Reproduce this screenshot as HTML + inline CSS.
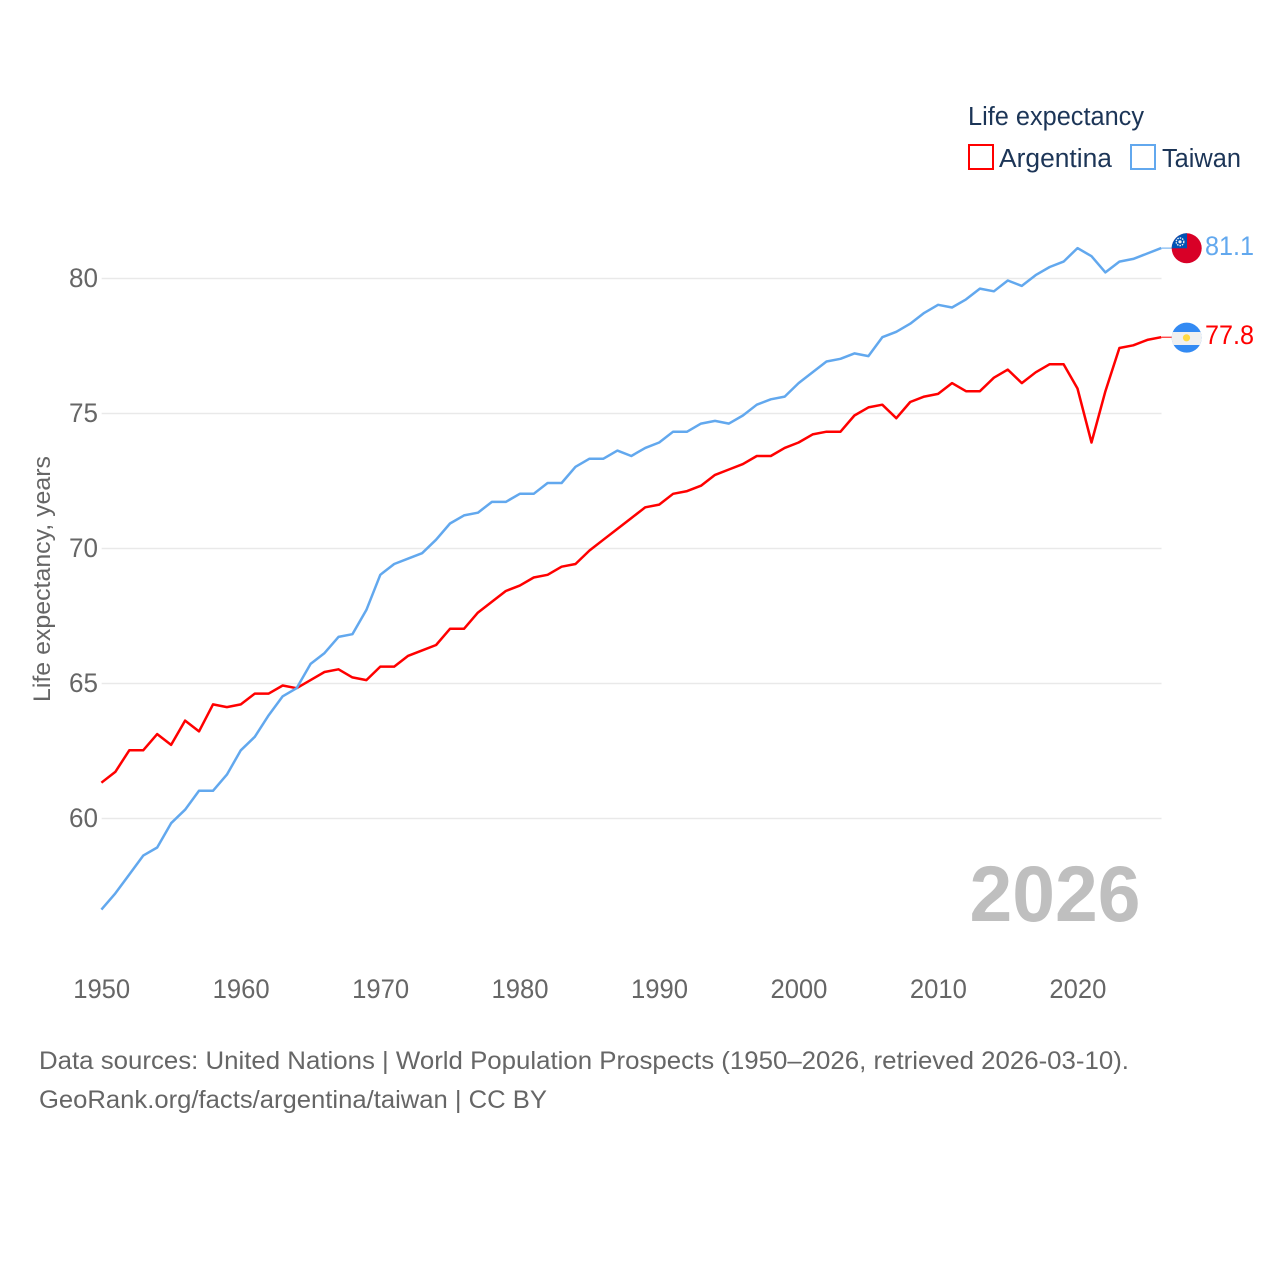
<!DOCTYPE html>
<html lang="en">
<head>
<meta charset="utf-8">
<title>Life expectancy: Argentina and Taiwan</title>
<style>
html,body{margin:0;padding:0;background:#fff;}
body{width:1280px;height:1280px;overflow:hidden;}
svg{display:block;}
text{font-family:"Liberation Sans",sans-serif;}
</style>
</head>
<body>
<svg id="chart" xmlns="http://www.w3.org/2000/svg" width="1280" height="1280" viewBox="0 0 1280 1280">
  <defs>
    <clipPath id="clip-tw"><circle cx="1186.7" cy="248.3" r="15"/></clipPath>
    <clipPath id="clip-ar"><circle cx="1186.7" cy="337.6" r="15"/></clipPath>
  </defs>
  <g id="grid"></g>
  <g id="y-ticks"></g>
  <g id="x-ticks"></g>
  <text transform="translate(50,579) rotate(-90)" text-anchor="middle" font-size="24" fill="#666" textLength="246" lengthAdjust="spacingAndGlyphs">Life expectancy, years</text>
  <text x="969.5" y="921" font-size="79" fill="#bfbfbf" textLength="171" lengthAdjust="spacingAndGlyphs" style="font-weight:700">2026</text>
  <g id="series"></g>

  <g>
    <text x="968" y="125" font-size="25.5" fill="#1c3557" textLength="176" lengthAdjust="spacingAndGlyphs">Life expectancy</text>
    <rect x="969" y="145" width="24" height="24" fill="#fff" stroke="#ff0000" stroke-width="2"/>
    <text x="999" y="167" font-size="25.5" fill="#1c3557" textLength="113" lengthAdjust="spacingAndGlyphs">Argentina</text>
    <rect x="1131" y="145" width="24" height="24" fill="#fff" stroke="#62a8ee" stroke-width="2"/>
    <text x="1162" y="167" font-size="25.5" fill="#1c3557" textLength="79" lengthAdjust="spacingAndGlyphs">Taiwan</text>
  </g>

  <g clip-path="url(#clip-tw)">
    <rect x="1171" y="233" width="32" height="31" fill="#d80027"/>
    <rect x="1171" y="233" width="16" height="15.3" fill="#0052b4"/>
    <circle cx="1180" cy="241.8" r="3.8" fill="none" stroke="#f0f0f0" stroke-width="1.4" stroke-dasharray="1.5 1"/>
    <circle cx="1180" cy="241.8" r="1.6" fill="#f0f0f0"/>
  </g>
  <g clip-path="url(#clip-ar)">
    <rect x="1171" y="322" width="32" height="31" fill="#338af3"/>
    <rect x="1171" y="332" width="32" height="13" fill="#f0f0f0"/>
    <circle cx="1186.5" cy="337.8" r="3.6" fill="#ffda44"/>
  </g>
  <text x="1205" y="255" font-size="26.5" fill="#62a8ee" textLength="49" lengthAdjust="spacingAndGlyphs">81.1</text>
  <text x="1205" y="344" font-size="26.5" fill="#ff0000" textLength="49" lengthAdjust="spacingAndGlyphs">77.8</text>

  <text x="39" y="1069" font-size="25" fill="#666" textLength="1090" lengthAdjust="spacingAndGlyphs">Data sources: United Nations | World Population Prospects (1950–2026, retrieved 2026-03-10).</text>
  <text x="39" y="1108" font-size="25" fill="#666" textLength="508" lengthAdjust="spacingAndGlyphs">GeoRank.org/facts/argentina/taiwan | CC BY</text>
</svg>
<script>
var startYear = 1950;
var argentinaValues = [61.3,61.7,62.5,62.5,63.1,62.7,63.6,63.2,64.2,64.1,64.2,64.6,64.6,64.9,64.8,65.1,65.4,65.5,65.2,65.1,65.6,65.6,66.0,66.2,66.4,67.0,67.0,67.6,68.0,68.4,68.6,68.9,69.0,69.3,69.4,69.9,70.3,70.7,71.1,71.5,71.6,72.0,72.1,72.3,72.7,72.9,73.1,73.4,73.4,73.7,73.9,74.2,74.3,74.3,74.9,75.2,75.3,74.8,75.4,75.6,75.7,76.1,75.8,75.8,76.3,76.6,76.1,76.5,76.8,76.8,75.9,73.9,75.8,77.4,77.5,77.7,77.8];
var taiwanValues = [56.6,57.2,57.9,58.6,58.9,59.8,60.3,61.0,61.0,61.6,62.5,63.0,63.8,64.5,64.8,65.7,66.1,66.7,66.8,67.7,69.0,69.4,69.6,69.8,70.3,70.9,71.2,71.3,71.7,71.7,72.0,72.0,72.4,72.4,73.0,73.3,73.3,73.6,73.4,73.7,73.9,74.3,74.3,74.6,74.7,74.6,74.9,75.3,75.5,75.6,76.1,76.5,76.9,77.0,77.2,77.1,77.8,78.0,78.3,78.7,79.0,78.9,79.2,79.6,79.5,79.9,79.7,80.1,80.4,80.6,81.1,80.8,80.2,80.6,80.7,80.9,81.1];
var yTickValues = [60,65,70,75,80];
var xTickValues = [1950,1960,1970,1980,1990,2000,2010,2020];

var NS = 'http://www.w3.org/2000/svg';
function xScale(year){ return 101.4 + (year - 1950) * 13.945; }
function yScale(v){ return 277.8 + (80 - v) * 27; }
function make(tag, attrs, parent){
  var el = document.createElementNS(NS, tag);
  for (var k in attrs) el.setAttribute(k, attrs[k]);
  parent.appendChild(el);
  return el;
}
var gridG = document.getElementById('grid');
var yG = document.getElementById('y-ticks');
var xG = document.getElementById('x-ticks');
var seriesG = document.getElementById('series');

yTickValues.forEach(function(v){
  var line = make('line', {x1: 101.7, x2: 1161.5, y1: yScale(v) + 0.7, y2: yScale(v) + 0.7, stroke: '#e9e9e9', 'stroke-width': 1.5}, gridG);
  
  
  var t = make('text', {x: 98, y: yScale(v) + 9.2, 'text-anchor': 'end', 'font-size': 26.5, fill: '#666', textLength: 29, lengthAdjust: 'spacingAndGlyphs'}, yG);
  t.textContent = String(v);
  
  
});

xTickValues.forEach(function(y){
  var t = make('text', {x: xScale(y) + 0.3, y: 998, 'text-anchor': 'middle', 'font-size': 26.5, fill: '#666', textLength: 57, lengthAdjust: 'spacingAndGlyphs'}, xG);
  t.textContent = String(y);
  
  
});

function drawSeries(values, color, name){
  var pts = values.map(function(v, i){
    return xScale(startYear + i).toFixed(1) + ',' + yScale(v).toFixed(1);
  }).join(' ');
  var line = make('polyline', {points: pts, fill: 'none', stroke: color, 'stroke-width': 2.5, 'stroke-linejoin': 'round'}, seriesG);
  
  
  var lastV = values[values.length - 1];
  var lastX = xScale(startYear + values.length - 1);
  var tail = make('line', {x1: lastX, x2: 1172, y1: yScale(lastV), y2: yScale(lastV), stroke: color, 'stroke-width': 1}, seriesG);
  
  
}
drawSeries(argentinaValues, '#ff0000', 'argentina');
drawSeries(taiwanValues, '#62a8ee', 'taiwan');
</script>
</body>
</html>
